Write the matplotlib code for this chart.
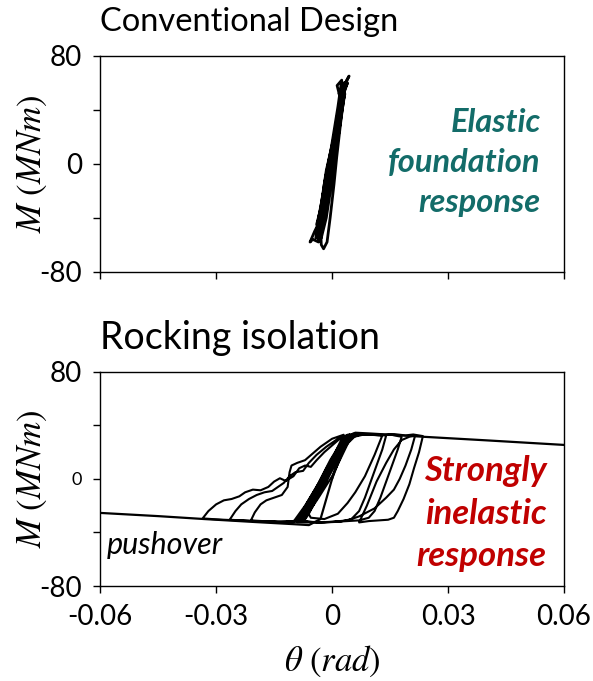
import matplotlib
matplotlib.use("Agg")
import matplotlib.pyplot as plt
import matplotlib.ticker as ticker

plt.rcParams['font.family'] = ['Lato', 'DejaVu Sans']
plt.rcParams['mathtext.fontset'] = 'stix'

# Datos del panel superior (cimentación convencional)
theta_conv = [0.0000, 0.0010, 0.0020, 0.0028, 0.0015, 0.0002, -0.0012, -0.0025, -0.0032, -0.0020,
              -0.0005, 0.0008, 0.0020, 0.0030, 0.0036, 0.0022, 0.0005, -0.0015, -0.0028, -0.0038,
              -0.0035, -0.0050, -0.0057, -0.0045, -0.0038, -0.0030, -0.0015, 0.0000, 0.0015, 0.0028,
              0.0038, 0.0044, 0.0032, 0.0018, 0.0000, -0.0018, -0.0030, -0.0028, -0.0022, -0.0013,
              -0.0005, 0.0005, 0.0012, 0.0022, 0.0030, 0.0034, 0.0020, 0.0013, 0.0025, 0.0015,
              -0.0002, -0.0020, -0.0030, -0.0036, -0.0028, -0.0015, 0.0000, 0.0012, 0.0025, 0.0033,
              0.0008, -0.0008, -0.0022, -0.0040, -0.0030, -0.0018, -0.0005, 0.0010, 0.0022, 0.0032,
              0.0040, 0.0025, 0.0010, -0.0005, -0.0023, -0.0035, -0.0042, -0.0030, -0.0012, 0.0003,
              0.0016, 0.0027, 0.0018, 0.0030, 0.0012, -0.0006, -0.0020, -0.0025]
m_conv = [5, 25, 45, 55, 38, 15, -10, -35, -48, -35,
          -10, 15, 40, 57, 61, 45, 20, -5, -30, -50,
          -58, -56, -58, -50, -46, -42, -18, 5, 30, 52,
          62, 65, 58, 40, 10, -20, -45, -60, -63, -58,
          -40, -15, 5, 30, 48, 58, 50, 58, 62, 42,
          12, -15, -38, -52, -55, -40, -12, 12, 38, 52,
          20, -5, -25, -45, -50, -30, -8, 15, 38, 55,
          60, 48, 28, 0, -22, -40, -55, -52, -28, -3,
          22, 45, 52, 60, 30, 2, -22, -40]

# Curva pushover (aislamiento por cabeceo)
theta_push = [-0.06, -0.045, -0.033, -0.02, -0.01, -0.006, -0.003, 0.0, 0.003, 0.006, 0.01, 0.0235, 0.04, 0.06]
m_push = [-25.4, -27.8, -30.0, -32.2, -33.8, -34.5, -30.0, 0.0, 30.0, 34.5, 33.9, 31.5, 28.8, 25.4]

# Lazos histeréticos del panel inferior
theta_rock = [0.0000, 0.0020, 0.0040, 0.0050, 0.0030, 0.0000, -0.0035, -0.0065, -0.0078, -0.0055,
              -0.0020, 0.0010, 0.0035, 0.0058, 0.0070, 0.0100, 0.0130, 0.0150, 0.0170, 0.0180,
              0.0170, 0.0155, 0.0140, 0.0125, 0.0110, 0.0095, 0.0070, 0.0040, 0.0010, -0.0030,
              -0.0090, -0.0060, -0.0030, 0.0000, 0.0030, 0.0050, 0.0080, 0.0120, 0.0160, 0.0190,
              0.0210, 0.0235, 0.0225, 0.0212, 0.0200, 0.0185, 0.0170, 0.0160, 0.0145, 0.0120,
              0.0095, 0.0070, 0.0090, 0.0115, 0.0140, 0.0160, 0.0180, 0.0200, 0.0215, 0.0205,
              0.0190, 0.0175, 0.0160, 0.0140, 0.0110, 0.0070, 0.0040, 0.0000, -0.0040, -0.0080,
              -0.0110, -0.0150, -0.0200, -0.0240, -0.0280, -0.0310, -0.0335, -0.0320, -0.0300, -0.0280,
              -0.0260, -0.0240, -0.0225, -0.0205, -0.0185, -0.0165, -0.0150, -0.0135, -0.0120, -0.0100,
              -0.0085, -0.0070, -0.0055, -0.0040, -0.0020, 0.0000, 0.0020, 0.0040, 0.0055, 0.0030,
              0.0000, -0.0030, -0.0060, -0.0085, -0.0120, -0.0160, -0.0200, -0.0235, -0.0265, -0.0250,
              -0.0235, -0.0215, -0.0195, -0.0175, -0.0155, -0.0140, -0.0125, -0.0110, -0.0095, -0.0075,
              -0.0060, -0.0040, -0.0015, 0.0015, 0.0045, 0.0020, -0.0010, -0.0040, -0.0070, -0.0095,
              -0.0140, -0.0180, -0.0210, -0.0200, -0.0185, -0.0170, -0.0150, -0.0130, -0.0115, -0.0110,
              -0.0105, -0.0090, -0.0070, -0.0050, -0.0030, 0.0000, 0.0030, 0.0005, -0.0025, -0.0050,
              -0.0075, -0.0090, -0.0065, -0.0035, -0.0005, 0.0025, 0.0045, 0.0015, -0.0015, -0.0045,
              -0.0070, -0.0080, -0.0050, -0.0020, 0.0010, 0.0035, 0.0055, 0.0025, -0.0005, -0.0035,
              -0.0060, -0.0072, -0.0045, -0.0012, 0.0018, 0.0040, 0.0060, 0.0090, 0.0120, 0.0140,
              0.0130, 0.0115, 0.0100, 0.0085, 0.0070, 0.0050, 0.0020, -0.0020, -0.0060, -0.0080,
              -0.0055, -0.0025, 0.0005, 0.0030, 0.0050, 0.0080, 0.0110, 0.0130, 0.0110, 0.0085,
              0.0060, 0.0040, 0.0015, -0.0020, -0.0055, -0.0065, -0.0040, -0.0010, 0.0020, 0.0040,
              0.0010, -0.0025, -0.0060, -0.0085, -0.0100, -0.0070, -0.0040, -0.0010, 0.0020, 0.0045,
              0.0065, 0.0035, 0.0005, -0.0030, -0.0060, -0.0080, -0.0058, -0.0030, 0.0000, 0.0030,
              0.0052, 0.0028, -0.0008, -0.0045, -0.0070, -0.0088, -0.0062, -0.0028, 0.0008, 0.0038,
              0.0058, 0.0040, 0.0010, -0.0020, -0.0050, -0.0075, -0.0050, -0.0015, 0.0015, 0.0042]
m_rock = [0, 15, 28, 32, 20, 2, -14, -27, -31, -20,
          -3, 14, 27, 33, 33.5, 33, 32.5, 33.2, 32.0, 31.5,
          22, 10, -2, -14, -24, -29, -31, -31.5, -32, -32.5,
          -32.5, -22, -8, 8, 24, 31, 33, 32.8, 33.5, 32.5,
          33.2, 32, 20, 8, -4, -15, -24, -29, -30.5, -31,
          -31.5, -32.5, -20, -2, 12, 22, 29, 31.5, 32.5, 22,
          10, 0, -8, -14, -22, -28, -31, -32, -32.5, -31.5,
          -32.5, -32, -31.5, -31, -30.5, -30, -29.5, -24, -19, -16,
          -15, -13, -10, -8, -8.5, -6, -2, 0.5, -1.5, 2,
          8, 10, 9, 14, 20, 25, 30, 33, 33.5, 22,
          8, -8, -22, -31, -32, -32, -31.5, -31, -30.5, -24,
          -19, -15, -12, -10, -9, -6, -3, 2, 5, 6,
          12, 18, 24, 30, 33, 20, 4, -12, -26, -31.5,
          -32, -31.5, -31, -25, -19, -16, -14, -12, -6, 5,
          10, 12, 14, 19, 24, 30, 33, 18, 2, -12,
          -26, -31, -18, -3, 14, 28, 33, 18, 2, -14,
          -28, -32, -18, 0, 18, 30, 34, 20, 4, -12,
          -26, -31, -17, 2, 20, 31, 33.5, 33, 33.5, 32.5,
          22, 10, -2, -14, -24, -30, -32, -32.5, -32, -31,
          -18, -2, 15, 28, 32, 33.2, 32.8, 32.5, 18, 2,
          -10, -18, -26, -30, -29, -24, -10, 5, 22, 30,
          18, -2, -20, -30, -32, -20, -6, 10, 25, 32,
          33.5, 25, 10, -8, -22, -30, -24, -10, 8, 24,
          33, 26, 6, -14, -25, -31, -25, -8, 12, 28,
          33, 30, 15, 0, -16, -29, -20, -2, 16, 31]

xticks = [-0.06, -0.03, 0, 0.03, 0.06]
xticklabels = ['-0.06', '-0.03', '0', '0.03', '0.06']
yticks = [-80, 0, 80]
yticklabels = ['-80', '0', '80']

fig = plt.figure(figsize=(5.93, 6.81), dpi=100)
ax1 = fig.add_axes([0.169, 0.601, 0.782, 0.317])
ax2 = fig.add_axes([0.169, 0.1395, 0.782, 0.3145])

ax1.plot(theta_conv, m_conv, color='black', lw=2.0)
ax2.plot(theta_push, m_push, color='black', lw=1.6)
ax2.plot(theta_rock, m_rock, color='black', lw=1.5)

for ax in (ax1, ax2):
    ax.set_xlim(-0.06, 0.06)
    ax.set_ylim(-80, 80)
    ax.set_xticks(xticks)
    ax.set_yticks(yticks)
    ax.yaxis.set_minor_locator(ticker.FixedLocator([-40, 40]))
    ax.tick_params(which='both', direction='out', length=5, width=1, pad=8)
    ax.set_yticklabels(yticklabels, fontsize=20)
    for s in ax.spines.values():
        s.set_linewidth(1.0)
    ax.set_ylabel(r'$M\ (MNm)$', fontsize=25)
    ax.yaxis.set_label_coords(-0.11, 0.5)

ax1.set_xticklabels([])
ax2.set_xticklabels(xticklabels, fontsize=20)
ax2.get_yticklabels()[1].set_fontsize(13)
ax2.set_xlabel(r'$\theta\ (rad)$', fontsize=25)
ax2.xaxis.set_label_coords(0.5, -0.27)

fig.text(0.1686, 0.968, 'Conventional Design', fontsize=23.5, va='center', ha='left')
fig.text(0.1686, 0.504, 'Rocking isolation', fontsize=27, va='center', ha='left')

teal = '#136c69'
for txt, y in [('Elastic', 0.690), ('foundation', 0.505), ('response', 0.319)]:
    ax1.text(0.950, y, txt, transform=ax1.transAxes, ha='right', va='center',
             fontsize=23.5, fontweight='bold', fontstyle='italic', color=teal)

red = '#c00000'
for txt, y in [('Strongly', 0.537), ('inelastic', 0.336), ('response', 0.140)]:
    ax2.text(0.963, y, txt, transform=ax2.transAxes, ha='right', va='center',
             fontsize=25, fontweight='bold', fontstyle='italic', color=red)

ax2.text(0.015, 0.192, 'pushover', transform=ax2.transAxes, ha='left', va='center',
         fontsize=22, fontstyle='italic')

fig.savefig('out.png', dpi=100)
